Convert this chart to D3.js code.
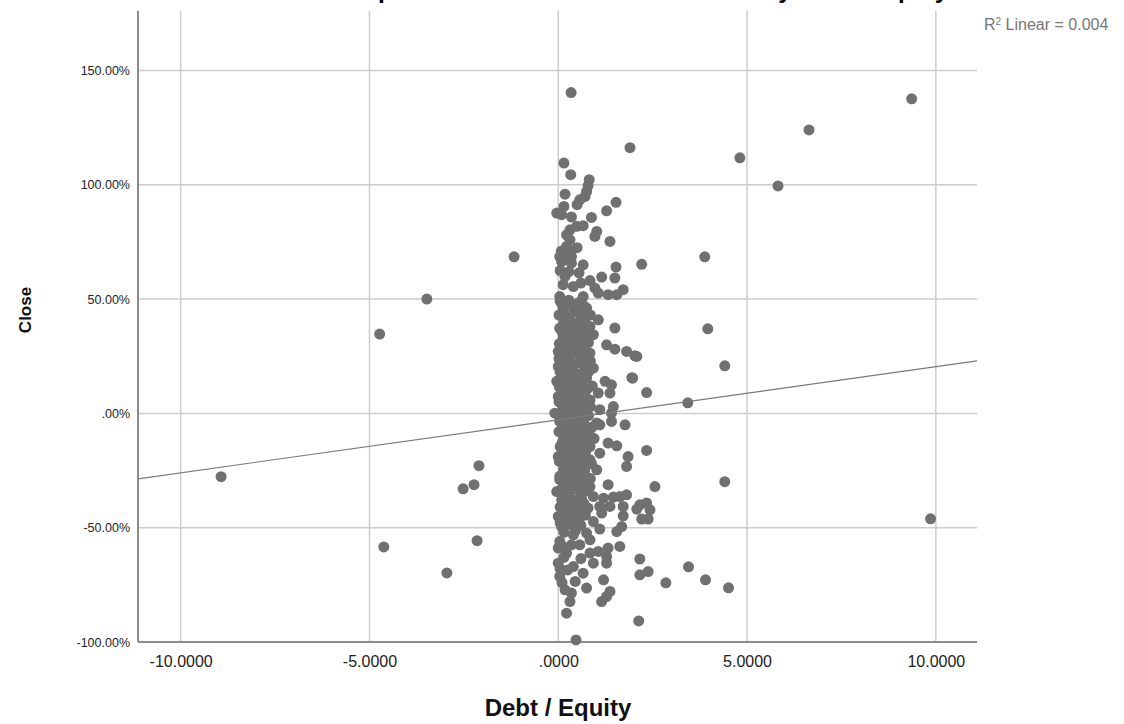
<!DOCTYPE html>
<meta charset="utf-8">
<style>
body { margin: 0; background: #fff; }
svg { display: block; font-family: Arial, "Liberation Sans", sans-serif; }
.grid line { stroke: #cccccc; stroke-width: 1.5px; }
.frame { stroke: #8c8c8c; stroke-width: 2px; }
.tick-label { fill: #222; }
.axis-title { font-weight: bold; fill: #111; }
.dots circle { fill: #707070; }
</style>
<svg width="1124" height="724"></svg>
<script src="https://d3js.org/d3.v7.min.js"></script>
<script>

// tick values
var xTicks = [-10, -5, 0, 5, 10];
var yTicks = [-100, -50, 0, 50, 100, 150];

// fit line: Close = intercept + slope * DebtEquity
var fitLine = [-2.8, 2.32];
var rSquared = "0.004";

// points: [debt / equity, close %]
var farPoints = [
  [-8.93,-27.7],[-4.73,34.7],[-4.62,-58.4],[-3.48,50.0],[-2.95,-69.8],[-2.52,-33.0],
  [-2.23,-31.2],[-2.10,-22.9],[-2.15,-55.7],[-1.17,68.5],
  [0.34,140.3],[1.90,116.2],[4.81,111.8],[5.82,99.5],[6.64,124.0],[9.36,137.6],[9.86,-46.1],
  [3.88,68.5],[3.96,37.0],[4.41,20.8],[3.43,4.6],[4.41,-29.9],[3.45,-67.1],[3.90,-72.8],
  [4.51,-76.3],[2.85,-74.1],[2.13,-90.8],[0.47,-99.1]
];

var sidePoints = [
  [2.21,65.2],[2.03,25.2],[1.95,15.6],[2.34,9.1],[2.34,-16.2],[2.56,-32.0],[1.85,-18.9],
  [1.81,-23.2],[2.16,-40.0],[2.34,-39.2],[2.08,-41.9],[2.43,-42.2],[2.21,-46.2],[2.38,-46.2],
  [2.16,-63.7],[2.38,-69.2],[2.16,-70.6],[1.77,-5.0],[1.72,54.1],[1.53,64.0],[1.50,59.2],
  [1.55,51.9],[1.50,37.3],[1.81,27.1],[2.08,24.9],[1.97,15.4],[1.53,92.3],[1.37,75.2],[1.28,88.6]
];

var upperCluster = [
  [0.15,109.5],[0.33,104.4],[0.82,102.2],[0.79,99.6],[0.75,97.1],[0.18,95.9],[0.71,94.9],
  [0.57,93.4],[0.50,91.3],[0.15,90.5],[-0.04,87.6],[0.09,86.9],[0.35,85.9],[0.88,85.7],
  [0.66,82.1],[0.49,81.8],[0.31,80.3],[1.02,79.6],[0.97,77.4],[0.22,78.1],[0.31,75.9],
  [0.22,73.0],[0.18,69.4],[0.04,68.6],[0.35,68.6],[0.09,66.4],[0.35,65.7],[0.66,65.0],
  [1.15,59.6],[0.84,58.1],[0.18,59.9],[0.13,56.3],[0.40,55.5],[0.97,54.8],[1.32,51.9],
  [1.06,52.6],[0.66,51.1],[0.04,51.1],[0.28,62.0],[0.55,61.5],[0.05,62.5],[0.6,57.0],
  [0.08,71.0],[0.5,72.5],[0.3,70.5]
];

var midCluster = [
  [0.31,48.3],[0.75,46.1],[0.13,44.6],[0.57,43.9],[1.06,40.9],[0.04,37.3],[0.84,38.0],
  [0.40,35.8],[0.93,34.4],[0.13,32.9],[0.66,31.5],[1.28,30.0],[1.50,28.1],[0.00,27.1],
  [0.40,26.4],[0.84,26.4],[0.22,23.4],[0.66,22.0],[0.00,20.5],[0.93,19.8],[0.40,18.3],
  [0.13,16.1],[0.75,15.4],[1.24,14.0],[1.41,12.5],[-0.04,14.0],[0.49,13.3],[1.06,8.9],
  [1.37,8.9],[0.18,10.3],[0.75,10.3],[0.00,7.4],[0.40,6.7],[0.84,5.9],[1.46,3.0],
  [1.41,0.1],[1.10,1.6],[-0.09,0.1],[0.22,1.6],[0.57,-0.6],[0.04,-3.5],[1.02,-4.2]
];

var lowerCluster = [
  [1.41,-3.5],[1.10,-5.0],[0.66,-8.6],[0.04,-7.9],[1.32,-13.0],[1.55,-14.2],[1.10,-17.4],
  [0.40,-15.9],[0.00,-18.9],[0.84,-20.3],[0.22,-23.2],[1.02,-24.7],[0.57,-26.9],[0.04,-29.0],
  [1.32,-31.2],[0.84,-32.0],[0.31,-33.4],[-0.04,-34.2],[1.81,-35.6],[1.63,-36.4],[1.46,-36.6],
  [1.20,-37.1],[0.93,-36.4],[0.62,-37.5],[0.40,-38.5],[0.09,-37.8],[1.72,-40.7],[1.37,-40.7],
  [1.10,-40.7],[0.79,-41.4],[1.15,-43.6],[1.72,-44.8],[0.31,-43.6],[0.00,-45.1],[0.57,-45.8],
  [0.93,-47.3],[0.09,-49.5],[0.35,-48.7],[1.68,-49.5],[1.55,-51.7],[1.10,-50.6],[0.75,-52.4],
  [0.40,-53.1],[0.04,-56.0],[0.84,-55.3],[0.57,-57.5],[1.63,-58.2],[1.32,-58.9],[0.00,-58.9],
  [1.06,-60.4],[0.84,-61.1],[0.22,-61.1],[1.28,-62.6],[0.93,-65.5],[1.28,-65.5],[0.00,-65.5],
  [0.40,-67.0],[0.66,-69.9],[0.04,-71.3],[1.20,-72.8],[0.75,-76.4],[0.18,-77.2],[1.37,-77.9],
  [0.35,-78.6],[1.28,-80.1],[1.15,-82.3],[0.31,-82.3],[0.22,-87.4]
];

// the solid middle of the cloud
var coreFill = [
  [0.05,49],[0.28,49.5],[0.55,48.5],[0.12,46.5],[0.4,46],[0.68,47],
  [0.02,43],[0.3,42.5],[0.6,41],[0.85,43],[0.15,40],[0.45,39.5],[0.7,40.5],
  [0.05,37],[0.28,37.5],[0.52,36],[0.78,36.5],[0.18,33.5],[0.42,33],[0.65,34],
  [0.03,30.5],[0.3,30],[0.55,29],[0.8,31],[0.14,27.5],[0.46,27],[0.7,28],
  [0.02,24],[0.3,24.5],[0.58,25],[0.85,23],[0.12,21],[0.42,21.5],[0.7,20],
  [0.05,18],[0.28,18.5],[0.55,17],[0.8,18],[0.16,14.5],[0.38,15],[0.62,13.5],
  [0.03,11.5],[0.3,11],[0.52,10],[0.9,12],[0.15,8],[0.45,8.5],[0.72,7],
  [0.02,5],[0.3,4],[0.58,4.5],[0.85,3],[0.12,2],[0.4,1.5],[0.7,2.5],
  [0.04,-1.5],[0.28,-1],[0.5,-2.5],[0.8,-1],[0.15,-5],[0.4,-5.5],[0.68,-4.5],[0.9,-6],
  [0.02,-8],[0.3,-8.5],[0.55,-7],[0.82,-9],[0.14,-11.5],[0.42,-11],[0.7,-12],[0.95,-11],
  [0.05,-14.5],[0.28,-14],[0.56,-15],[0.84,-14.5],[0.16,-18],[0.45,-18.5],[0.72,-17],
  [0.03,-21],[0.3,-21.5],[0.58,-20.5],[0.88,-22],[0.14,-24.5],[0.42,-24],[0.7,-25],
  [0.04,-27.5],[0.28,-28],[0.55,-27],[0.85,-28.5],[0.16,-31],[0.44,-30.5],[0.72,-31.5],
  [0.05,-34],[0.3,-34.5],[0.6,-33.5],[0.18,-37.5],[0.45,-38],[0.05,-41],[0.3,-40.5],
  [0.55,-41.5],[0.15,-44],[0.42,-44.5],[0.05,-48],[0.25,-48.5],[0.6,-49],[0.15,-52],
  [0.45,-51.5],[0.1,-58],[0.35,-57.5],[0.15,-63],[0.6,-63.5],[0.05,-68],[0.25,-68.5],
  [0.1,-74],[0.45,-73.5]
];

// in-between dots that close the gaps in the core
var coreGaps = [
  [0.18,47.5],[0.5,44.5],[0.22,41.5],[0.58,38],[0.12,35],[0.35,34.5],[0.6,32],
  [0.2,29],[0.4,28.5],[0.62,26],[0.1,25.5],[0.22,22.5],[0.55,22],[0.78,21],
  [0.2,19.5],[0.45,16.5],[0.68,16],[0.1,13],[0.22,12.5],[0.42,11.5],[0.62,9],
  [0.08,8.5],[0.3,7],[0.55,6.5],[0.2,4.5],[0.48,3],[0.62,0.5],[0.18,-0.5],
  [0.35,-3],[0.6,-4],[0.22,-6.5],[0.45,-8],[0.68,-8.5],[0.2,-9.5],[0.55,-11.5],
  [0.3,-12.5],[0.1,-13],[0.42,-14.5],[0.68,-15.5],[0.25,-17],[0.58,-18],[0.12,-19.5],
  [0.4,-21],[0.7,-21.5],[0.22,-22.5],[0.55,-23.5],[0.3,-25],[0.62,-26],[0.12,-26.5],
  [0.42,-27.5],[0.68,-28.5],[0.22,-30],[0.58,-30.5],[0.12,-32.5],[0.45,-33],[0.75,-34],
  [0.25,-36],[0.58,-36.5],[0.12,-39],[0.42,-40.5],[0.68,-39.5],[0.22,-42.5],[0.48,-43.5],
  [0.12,-46],[0.72,-44.5],[0.3,-46.5]
];

var points = [].concat(farPoints, sidePoints, upperCluster, midCluster, lowerCluster, coreFill, coreGaps);

var svg = d3.select("svg");

var plotLeft = 138, plotRight = 977, plotTop = 11, plotBottom = 642;

var x = d3.scaleLinear().domain([-11.13, 11.09]).range([plotLeft, plotRight]);
var y = d3.scaleLinear().domain([-100, 176]).range([plotBottom, plotTop]);

function fmtX(d) {
  var s = Math.abs(d).toFixed(4).replace(/^0\./, ".");
  return (d < 0 ? "-" : "") + s;
}
function fmtY(d) {
  var s = Math.abs(d).toFixed(2).replace(/^0\./, ".");
  return (d < 0 ? "-" : "") + s + "%";
}

// title, only the descenders poke in at the top edge
svg.append("text")
    .attr("x", 333)
    .attr("y", -2)
    .style("font-size", "24.5px")
    .style("font-weight", "bold")
    .text("Simple Scatter with Fit Line of Close by Debt / Equity");

// gridlines
var grid = svg.append("g").attr("class", "grid");
grid.selectAll(".gx")
  .data(xTicks)
  .enter().append("line")
    .attr("x1", function(d) { return x(d); })
    .attr("x2", function(d) { return x(d); })
    .attr("y1", plotTop)
    .attr("y2", plotBottom);
grid.selectAll(".gy")
  .data(yTicks.filter(function(d) { return d > -100; }))
  .enter().append("line")
    .attr("x1", plotLeft)
    .attr("x2", plotRight)
    .attr("y1", function(d) { return y(d); })
    .attr("y2", function(d) { return y(d); });

// axes
var xAxis = d3.axisBottom(x).tickValues(xTicks).tickFormat(fmtX).tickSize(0).tickPadding(14);
var yAxis = d3.axisLeft(y).tickValues(yTicks).tickFormat(fmtY).tickSize(0).tickPadding(8);

var gx = svg.append("g").attr("transform", "translate(0," + plotBottom + ")").call(xAxis);
var gy = svg.append("g").attr("transform", "translate(" + plotLeft + ",0)").call(yAxis);
[gx, gy].forEach(function(g) {
  g.select(".domain").remove();
  g.attr("font-family", null).attr("font-size", null);
  g.selectAll("text").attr("class", "tick-label");
});
gx.selectAll("text").style("font-size", "16px");
gy.selectAll("text").style("font-size", "12.5px");

svg.append("line").attr("class", "frame")
    .attr("x1", plotLeft).attr("x2", plotLeft).attr("y1", plotTop).attr("y2", plotBottom);
svg.append("line").attr("class", "frame")
    .attr("x1", plotLeft).attr("x2", plotRight).attr("y1", plotBottom).attr("y2", plotBottom);

// dots
svg.append("g").attr("class", "dots")
  .selectAll("circle")
  .data(points)
  .enter().append("circle")
    .attr("cx", function(d) { return x(d[0]); })
    .attr("cy", function(d) { return y(d[1]); })
    .attr("r", 5.5);

// fit line across the plot
var xd = x.domain();
svg.append("line")
    .attr("x1", x(xd[0]))
    .attr("y1", y(fitLine[0] + fitLine[1] * xd[0]))
    .attr("x2", x(xd[1]))
    .attr("y2", y(fitLine[0] + fitLine[1] * xd[1]))
    .attr("stroke", "#7a7a7a")
    .attr("stroke-width", 1.2);

// r squared
var r2 = svg.append("text")
    .attr("x", 984)
    .attr("y", 30)
    .style("font-size", "16px")
    .style("fill", "#777");
r2.append("tspan").text("R");
r2.append("tspan").attr("dy", -5).style("font-size", "10px").text("2");
r2.append("tspan").attr("dy", 5).text(" Linear = " + rSquared);

// axis titles
svg.append("text")
    .attr("class", "axis-title")
    .attr("x", 558)
    .attr("y", 716)
    .attr("text-anchor", "middle")
    .style("font-size", "24px")
    .text("Debt / Equity");

svg.append("text")
    .attr("class", "axis-title")
    .attr("transform", "translate(31,310) rotate(-90)")
    .attr("text-anchor", "middle")
    .style("font-size", "17px")
    .text("Close");

</script>
